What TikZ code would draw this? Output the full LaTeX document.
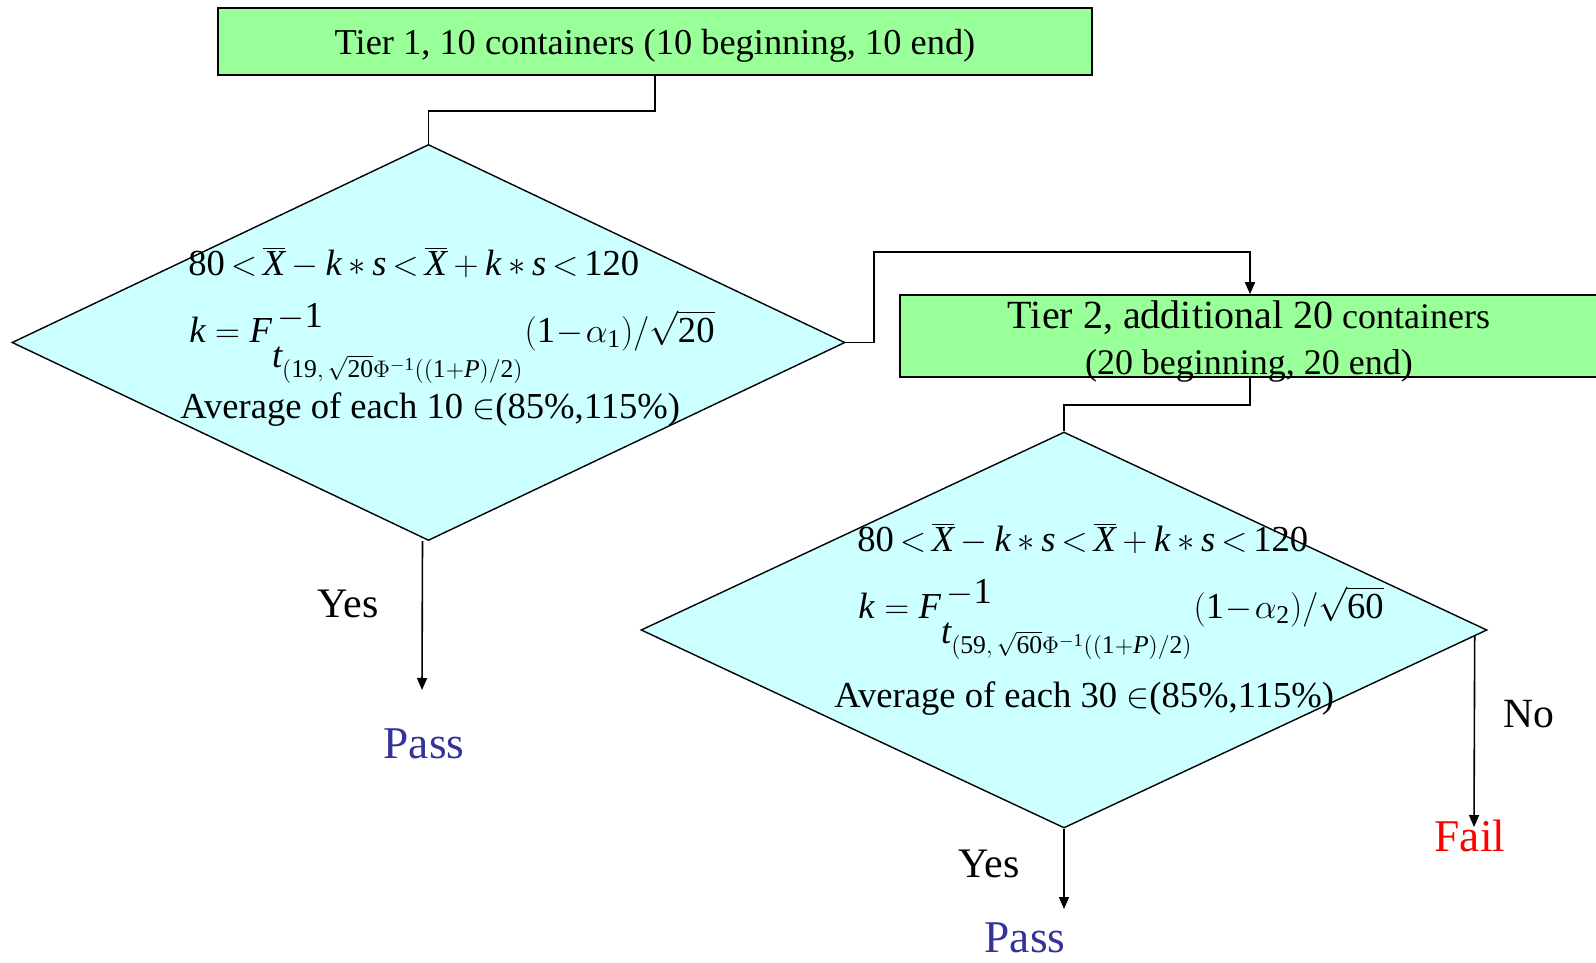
\documentclass[tikz,border=0pt]{standalone}
\usepackage{fontspec}
\setmainfont{Liberation Serif}
\usetikzlibrary{arrows.meta, shapes.geometric, calc}

\definecolor{tiergreen}{RGB}{153,255,153}
\definecolor{testcyan}{RGB}{204,255,255}
\definecolor{passblue}{RGB}{51,51,153}

% variables and numbers in the text face
\newcommand{\mv}[1]{\mathit{#1}}
\newcommand{\mn}[1]{\mathrm{#1}}
\newcommand{\specrange}{\thickmuskip=3mu\relax\medmuskip=3.5mu\relax
  \mn{80} < \overline{\mv{X}} - \mv{k} * \mv{s} < \overline{\mv{X}} + \mv{k} * \mv{s} < \mn{120}}
% k from the t quantile, #1 = degrees of freedom, #2 = n, #3 = alpha index
\newcommand{\kfactor}[3]{\medmuskip=1mu\relax
  \mv{k} = \mv{F}^{\textstyle\,-\mn{1}}_{\textstyle \rule{0pt}{17pt}\mv{t}_{(\mn{#1},\,\sqrt{\mn{#2}}\Phi^{-\mn{1}}((\mn{1}+\mv{P})/\mn{2})}}
  (\mn{1}-\alpha_{\mn{#3}})/\sqrt{\mn{#2}}}

\tikzset{
  tierbox/.style={draw, line width=0.8pt, fill=tiergreen, inner sep=0pt},
  testbox/.style={draw, diamond, line width=0.7pt, fill=testcyan, inner sep=0pt},
  rule/.style={anchor=base west, inner sep=0pt, font=\fontsize{18.3}{22}\selectfont},
  flow/.style={line width=0.8pt},
  arrow/.style={flow, -{Triangle[length=6pt,width=5pt]}},
  answer/.style={inner sep=0pt, font=\fontsize{21}{25}\selectfont},
  verdict/.style={inner sep=0pt, font=\fontsize{22.7}{27}\selectfont}
}

\begin{document}
\begin{tikzpicture}[x=0.5pt, y=-0.5pt]
\useasboundingbox (0,0) rectangle (1596,963);

% tier 1 and its test
\node[tierbox, minimum width=437pt, minimum height=33.5pt, text depth=0pt,
      font=\fontsize{18.2}{22}\selectfont] (tierone) at (655,41.5)
      {Tier 1, 10 containers (10 beginning, 10 end)};
\node[testbox, minimum width=416.5pt, minimum height=198pt] (testone) at (428.5,342.5) {};
\node[rule] (limone) at (188,275) {$\specrange$};
\node[rule] (kone) at (189,342) {$\kfactor{19}{20}{1}$};
\node[rule] (avgone) at (180,418) {Average of each 10 $\in$(85\%,115\%)};

% tier 2 and its test
\node[tierbox, minimum width=350pt, minimum height=41pt] (tiertwo) at (1250,336) {};
\node[align=center, anchor=base, inner sep=0pt, font=\fontsize{18}{23}\selectfont] (tiertwotext) at (1249,374)
  {{\fontsize{20}{23}\selectfont Tier 2, additional 20} containers\\(20 beginning, 20 end)};
\node[testbox, minimum width=423pt, minimum height=198pt] (testtwo) at (1064,630) {};
\node[rule] (limtwo) at (857,551) {$\specrange$};
\node[rule] (ktwo) at (858,618) {$\kfactor{59}{60}{2}$};
\node[rule] (avgtwo) at (834,707) {Average of each 30 $\in$(85\%,115\%)};

% outcomes
\coordinate (passonetip) at (422,690);
\coordinate (passtwotip) at (1064,909);
\coordinate (failtip) at (1474,827);
\node[answer] (yesone) at (348,604) {Yes};
\node[verdict, text=passblue] (passone) at (424,744) {Pass};
\node[answer] (yestwo) at (989,864) {Yes};
\node[verdict, text=passblue] (passtwo) at (1025,938) {Pass};
\node[answer, font=\fontsize{20.8}{25}\selectfont] (no) at (1529,714) {No};
\node[verdict, text=red] (fail) at (1470,836) {Fail};

% connectors
\draw[flow] (tierone.south) -- ++(0,35) -| (testone.north);
\draw[arrow] (testone.east) -- ++(28,0) |- ($(tiertwo.north)+(0,-42)$) -- (tiertwo.north);
\draw[flow] (tiertwo.south) -- ++(0,27) -| (testtwo.north);
\draw[arrow] ([xshift=-3pt]testone.south) -- (passonetip);
\draw[arrow] (testtwo.south) -- (passtwotip);
\draw[arrow] ([xshift=-6.5pt,yshift=-3pt]testtwo.east) -- (failtip);
\end{tikzpicture}
\end{document}
